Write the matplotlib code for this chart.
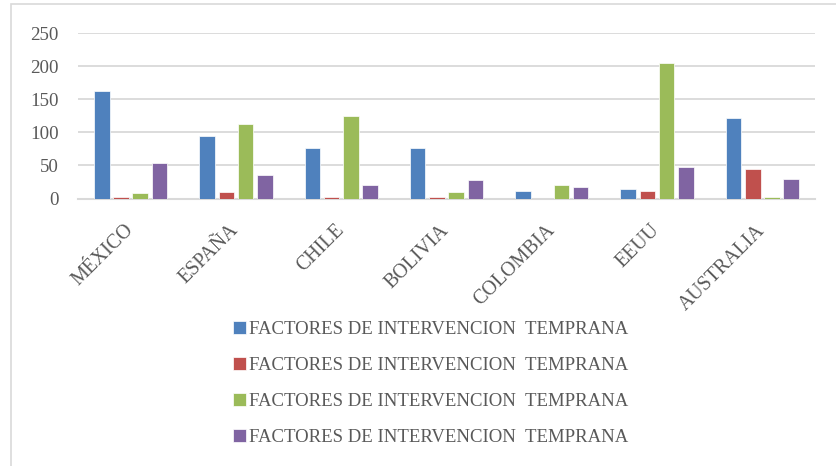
import matplotlib
matplotlib.use("Agg")
import matplotlib.pyplot as plt
import numpy as np
from matplotlib.patches import Rectangle

categories = ["MÉXICO", "ESPAÑA", "CHILE", "BOLIVIA", "COLOMBIA", "EEUU", "AUSTRALIA"]
series_labels = ["FACTORES DE INTERVENCION  TEMPRANA"] * 4
serie1 = [162, 95, 76, 76, 12, 14, 122]
serie2 = [2, 10, 3, 2, 0, 12, 44]
serie3 = [9, 112, 124, 10, 20, 204, 2]
serie4 = [53, 35, 20, 28, 17, 47, 29]
yticks = [0, 50, 100, 150, 200, 250]

colors = ["#4f81bd", "#c0504d", "#9bbb59", "#8064a2"]
txt = "#595959"
serif = ["Liberation Serif", "DejaVu Serif"]

W, H = 837, 466
fig = plt.figure(figsize=(W / 100, H / 100), dpi=100)

# outer chart border
fig.patches.append(Rectangle((11 / W, -0.05), 1.2, 1 - 3.5 / H + 0.05,
                             transform=fig.transFigure, fill=False,
                             edgecolor="#d9d9d9", linewidth=1.2))

ax = fig.add_axes([78 / W, 1 - 198.5 / H, (815 - 78) / W, (198.5 - 33) / H])

x = np.arange(len(categories))
step = 0.183
width = 0.148
all_series = [serie1, serie2, serie3, serie4]
for i, (vals, c) in enumerate(zip(all_series, colors)):
    ax.bar(x + (i - 1.5) * step, vals, width=width, color=c,
           edgecolor="#ffffff", linewidth=0.5, label=series_labels[i], zorder=3)

ax.set_xlim(-0.5, len(categories) - 0.5)
ax.set_ylim(0, 250)
ax.set_yticks(yticks)
ax.set_yticklabels([str(v) for v in yticks], fontfamily=serif, fontsize=13.6, color=txt)
ax.yaxis.grid(True, color="#d9d9d9", linewidth=1.3, zorder=0)
ax.set_axisbelow(True)
for s in ["top", "right", "left"]:
    ax.spines[s].set_visible(False)
ax.spines["bottom"].set_color("#d9d9d9")
ax.spines["bottom"].set_linewidth(1.5)
ax.tick_params(axis="both", length=0)
ax.tick_params(axis="y", pad=14)

ax.set_xticks(x)
ax.set_xticklabels(categories, rotation=45, ha="right", va="center",
                   rotation_mode="anchor", fontfamily=serif, fontsize=14.3, color=txt)
ax.tick_params(axis="x", pad=21)

leg = fig.legend(loc="upper left", bbox_to_anchor=(233 / W, 1 - 321 / H),
                 ncol=1, frameon=False, prop={"family": serif, "size": 13.5},
                 labelcolor=txt, handlelength=0.7, handleheight=0.7,
                 handletextpad=0.15, labelspacing=1.0, borderpad=0, borderaxespad=0)

fig.savefig("out.png", dpi=100, facecolor="white")
